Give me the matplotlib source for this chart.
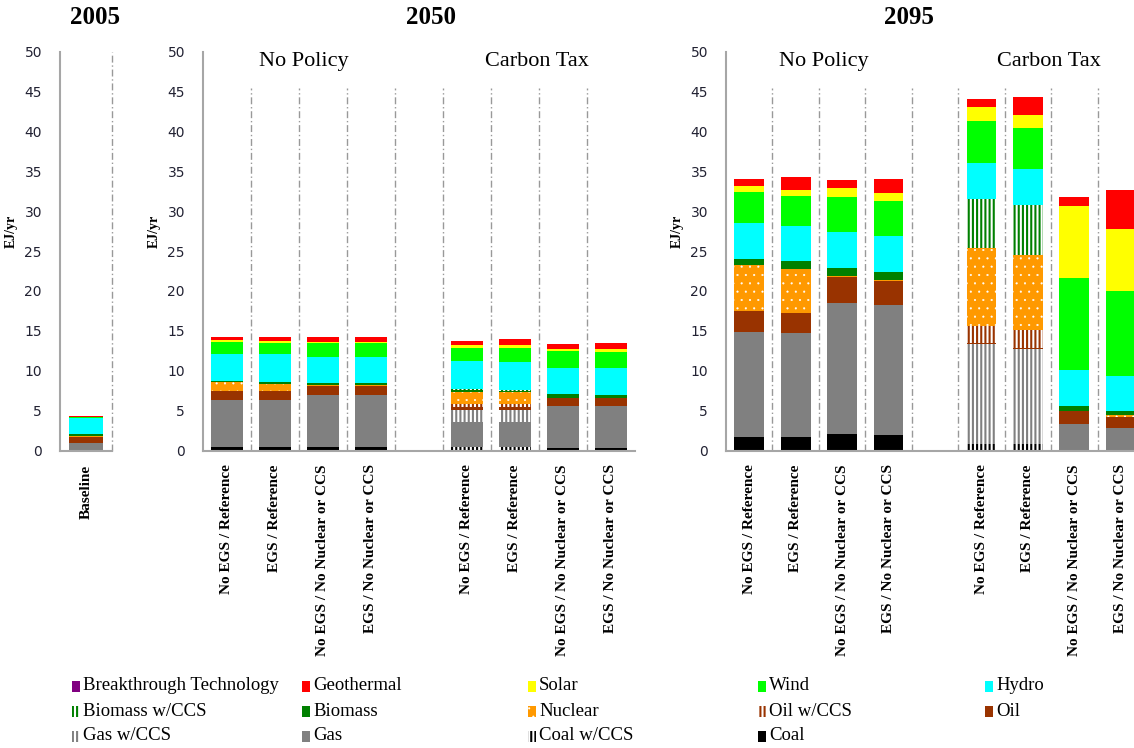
import matplotlib.pyplot as plt
from matplotlib.patches import Rectangle

plt.rcParams['font.family'] = ['Liberation Serif', 'DejaVu Serif']
plt.rcParams['hatch.linewidth'] = 1.5

# bar order: 2005 baseline, 2050 (4 no policy + 4 carbon tax), 2095 (same)
scenarios = ['No EGS / Reference', 'EGS / Reference',
             'No EGS / No Nuclear or CCS', 'EGS / No Nuclear or CCS']

coal         = [0, .5, .5, .5, .5, 0, 0, .33, .33, 1.67, 1.67, 2.09, 1.92, 0, 0, 0, 0]
coal_ccs     = [0, 0, 0, 0, 0, .42, .42, 0, 0, 0, 0, 0, 0, .84, .84, 0, 0]
gas          = [1.0, 5.83, 5.83, 6.46, 6.46, 3.12, 3.12, 5.21, 5.21, 13.13, 13.03, 16.46, 16.33, 0, 0, 3.34, 2.88]
gas_ccs      = [0, 0, 0, 0, 0, 1.54, 1.54, 0, 0, 0, 0, 0, 0, 12.53, 11.93, 0, 0]
oil          = [.75, 1.09, 1.09, 1.17, 1.17, .32, .32, 1.0, 1.0, 2.66, 2.5, 3.15, 2.95, .1, .1, 1.55, 1.38]
oil_ccs      = [0, 0, 0, 0, 0, .43, .43, 0, 0, 0, 0, 0, 0, 2.15, 2.25, 0, 0]
nuclear      = [.12, 1.12, .91, .12, .1, 1.47, 1.47, .05, .05, 5.74, 5.5, .15, .2, 9.73, 9.44, .11, .17]
biomass      = [.15, .21, .3, .25, .2, .25, .15, .49, .33, .78, 1.0, 1.05, 1.03, 0, 0, .64, .46]
biomass_ccs  = [0, 0, 0, 0, 0, .15, .13, 0, 0, 0, 0, 0, 0, 6.19, 6.22, 0, 0]
hydro        = [2.1, 3.29, 3.41, 3.25, 3.32, 3.47, 3.46, 3.25, 3.41, 4.52, 4.5, 4.5, 4.51, 4.51, 4.52, 4.46, 4.51]
wind         = [.05, 1.59, 1.38, 1.75, 1.75, 1.66, 1.79, 2.09, 2.05, 3.9, 3.7, 4.35, 4.35, 5.3, 5.13, 11.58, 10.65]
solar        = [0, .2, .33, .13, .13, .34, .34, .25, .29, .8, .8, 1.21, 1.04, 1.72, 1.67, 8.98, 7.77]
geothermal   = [.17, .42, .5, .62, .62, .58, .75, .66, .79, .9, 1.55, .94, 1.76, .96, 2.22, 1.09, 4.84]
breakthrough = [0] * 17

# stacked bottom -> top
stack = [
    ('Coal', coal), ('Coal w/CCS', coal_ccs), ('Gas', gas), ('Gas w/CCS', gas_ccs),
    ('Oil', oil), ('Oil w/CCS', oil_ccs), ('Nuclear', nuclear), ('Biomass', biomass),
    ('Biomass w/CCS', biomass_ccs), ('Hydro', hydro), ('Wind', wind), ('Solar', solar),
    ('Geothermal', geothermal), ('Breakthrough Technology', breakthrough),
]

styles = {
    'Coal': dict(color='#000000'),
    'Coal w/CCS': dict(color='white', hatch='||||', edgecolor='#000000'),
    'Gas': dict(color='#808080'),
    'Gas w/CCS': dict(color='white', hatch='||||', edgecolor='#808080'),
    'Oil': dict(color='#993300'),
    'Oil w/CCS': dict(color='white', hatch='||||', edgecolor='#993300'),
    'Nuclear': dict(color='#FF9900', hatch='..', edgecolor='white', hlw=0.3),
    'Biomass': dict(color='#008000'),
    'Biomass w/CCS': dict(color='white', hatch='||||', edgecolor='#008000'),
    'Hydro': dict(color='#00FFFF'),
    'Wind': dict(color='#00FF00'),
    'Solar': dict(color='#FFFF00'),
    'Geothermal': dict(color='#FF0000'),
    'Breakthrough Technology': dict(color='#800080'),
}

W, H = 1134, 748
fig = plt.figure(figsize=(W / 100, H / 100), dpi=100)

GRID = '#a6a6a6'
DASH = (0, (5, 2, 1, 2))


def panel(left, width, idx, xpos, labels, width_bar):
    ax = fig.add_axes([left / W, 1 - 450.5 / H, width / W, (450.5 - 51.7) / H])
    bottom = [0.0] * len(idx)
    for name, vals in stack:
        v = [vals[i] for i in idx]
        st = styles[name]
        with plt.rc_context({'hatch.linewidth': st.get('hlw', 1.5)}):
            ax.bar(xpos, v, width_bar, bottom=bottom, color=st['color'],
                   hatch=st.get('hatch'), edgecolor=st.get('edgecolor', st['color']),
                   linewidth=0, zorder=2)
        bottom = [b + c for b, c in zip(bottom, v)]
    ax.set_ylim(0, 50)
    ax.set_yticks(range(0, 51, 5))
    ax.tick_params(axis='y', length=0, pad=13, labelsize=10, labelcolor='#222233')
    for lab in ax.get_yticklabels():
        lab.set_fontfamily('DejaVu Sans')
    ax.set_xticks(xpos)
    ax.set_xticklabels(labels, rotation=90, fontsize=11, fontweight='bold')
    ax.tick_params(axis='x', length=0, pad=10)
    for s in ('top', 'right'):
        ax.spines[s].set_visible(False)
    for s in ('left', 'bottom'):
        ax.spines[s].set_color(GRID)
        ax.spines[s].set_linewidth(1.5)
    ax.set_ylabel('EJ/yr', fontsize=10, fontweight='bold')
    ax.yaxis.set_label_coords(-42 / width, 0.55)
    return ax


# 2005
ax1 = panel(60, 52, [0], [0], ['Baseline'], 0.67)
ax1.set_xlim(-0.5, 0.5)
ax1.vlines([0.5], 0, 50, colors='#999999', linestyles=DASH, lw=1, clip_on=False)

slots = [0, 1, 2, 3, 5, 6, 7, 8]
# 2050
ax2 = panel(203, 432, list(range(1, 9)), slots, scenarios * 2, 0.65)
# 2095
ax3 = panel(726, 418, list(range(9, 17)), slots, scenarios * 2, 0.64)
for ax in (ax2, ax3):
    ax.set_xlim(-0.5, 8.5)
    ax.vlines([i + 0.5 for i in range(8)], 0, 45.4, colors='#999999',
              linestyles=DASH, lw=1)
    ax.text(1.6, 48.8, 'No Policy', fontsize=16, ha='center', va='center')
    ax.text(6.45, 48.8, 'Carbon Tax', fontsize=16, ha='center', va='center')

for x, t in [(95, '2005'), (431, '2050'), (909, '2095')]:
    fig.text(x / W, 1 - 17 / H, t, fontsize=18, fontweight='bold',
             ha='center', va='center')

# legend, laid out in a 5-column grid
order = [name for name, _ in stack][::-1]
cols = [72, 302, 528, 758, 985]
rows = [686, 711, 736]
for k, name in enumerate(order):
    cx, cy = cols[k % 5], rows[k // 5]
    st = styles[name]
    with plt.rc_context({'hatch.linewidth': st.get('hlw', 1.5)}):
        fig.add_artist(Rectangle((cx / W, 1 - (cy + 5.5) / H), 8 / W, 11 / H,
                                 transform=fig.transFigure, facecolor=st['color'],
                                 hatch=st.get('hatch'),
                                 edgecolor=st.get('edgecolor', st['color']), linewidth=0))
    fig.text((cx + 11) / W, 1 - cy / H, name, fontsize=13.5, ha='left', va='center')

fig.savefig('out.png', dpi=100)
